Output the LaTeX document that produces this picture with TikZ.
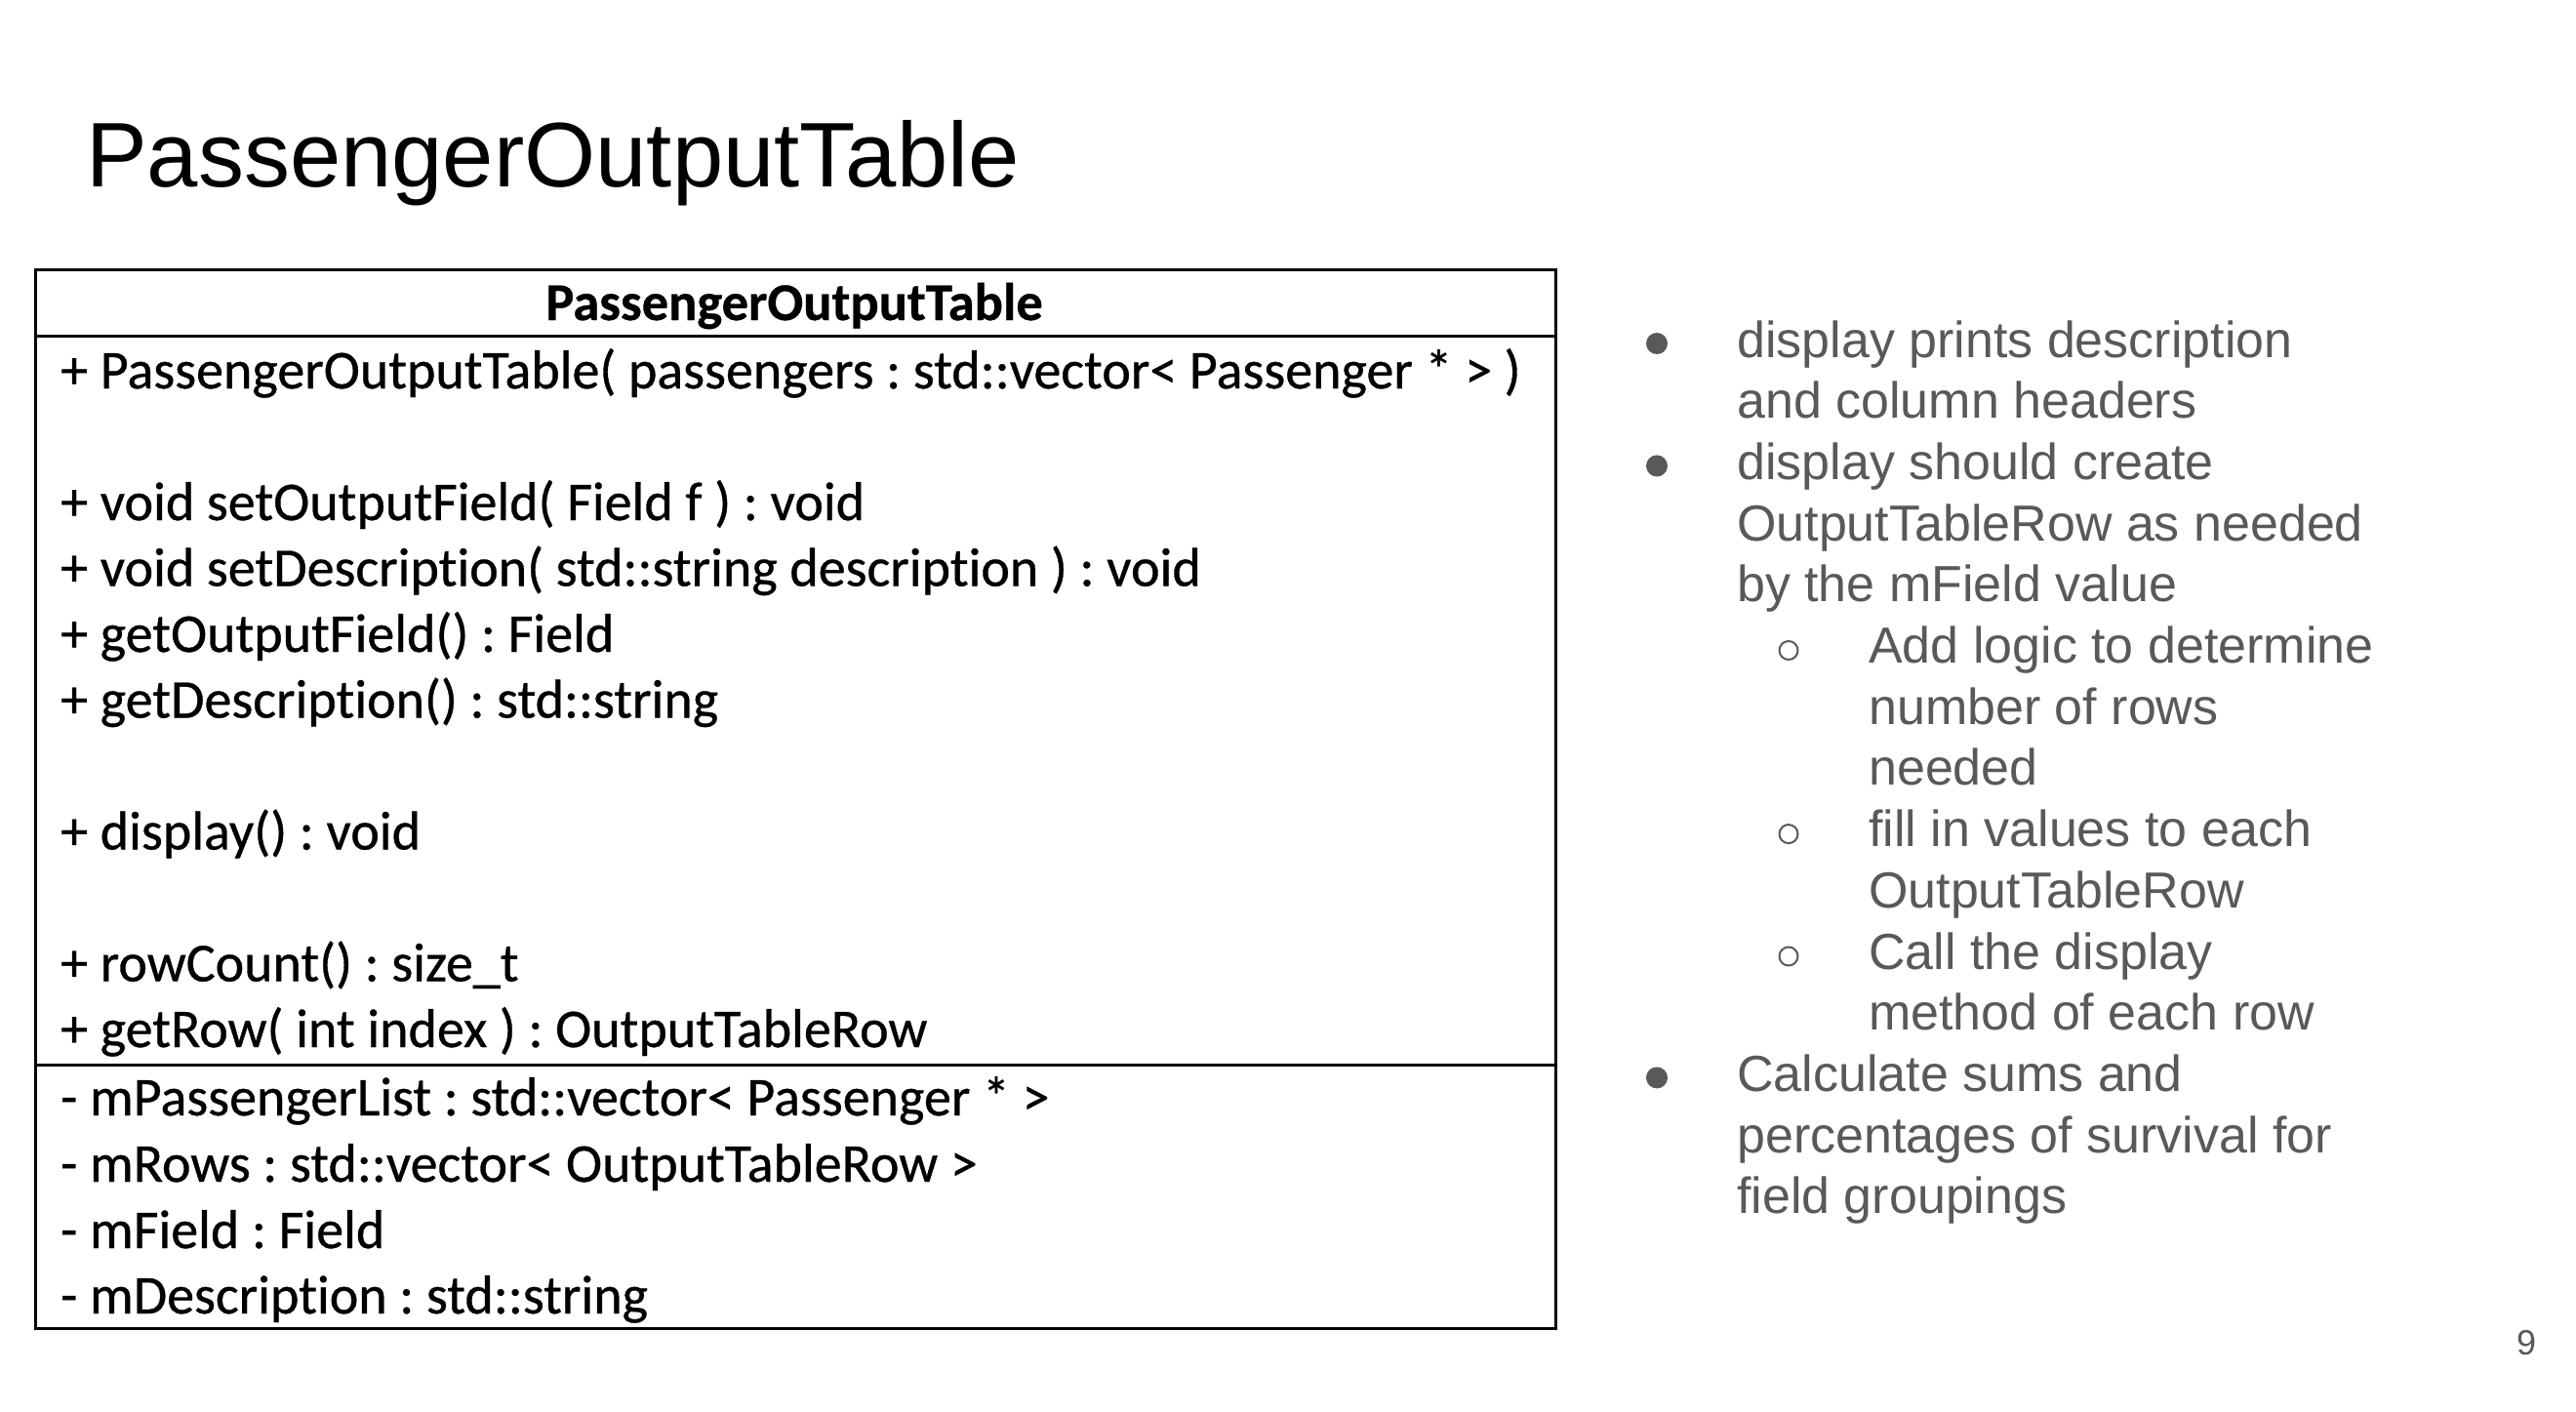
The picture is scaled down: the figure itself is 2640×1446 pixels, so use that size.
\documentclass[tikz,border=0pt]{standalone}
\usepackage{fontspec}
\setmainfont{Liberation Sans}
\newfontfamily\umlfont[Ligatures={NoCommon}, FakeBold=0.6]{Carlito}
\definecolor{txtgray}{HTML}{595959}
\begin{document}
\frenchspacing
\begin{tikzpicture}[x=1pt,y=-1pt,
  umlbox/.style={draw, line width=3pt, inner sep=0pt, anchor=north west, minimum width=1558pt},
  umltext/.style={anchor=base west, inner sep=0pt, font=\umlfont\fontsize{56}{60}\selectfont},
  umlhead/.style={anchor=base, inner sep=0pt, font=\umlfont\bfseries\fontsize{54.5}{60}\selectfont},
  note/.style={anchor=base west, inner sep=0pt, text=txtgray, font=\fontsize{52}{62}\selectfont},
  dotbullet/.style={circle, fill=txtgray, inner sep=0pt, minimum size=22pt},
  ringbullet/.style={circle, draw=txtgray, line width=2pt, inner sep=0pt, minimum size=19pt}]
\useasboundingbox[fill=white] (0,0) rectangle (2640,1446);

% title
\node[anchor=base west, inner sep=0pt, font=\fontsize{94}{110}\selectfont] (title) at (88,191) {PassengerOutputTable};

% UML class box
\node[umlbox, minimum height=68pt] (hdr) at (35,275) {};
\node[umlbox, minimum height=747pt] (ops) at (35,343) {};
\node[umlbox, minimum height=270pt] (attrs) at (35,1090) {};

\node[umlhead] (hname) at (814,328) {PassengerOutputTable};

\node[umltext] (m1) at (62,398) {+ PassengerOutputTable( passengers : std::vector< Passenger * > )};
\node[umltext] (m2) at (62,533) {+ void setOutputField( Field f ) : void};
\node[umltext] (m3) at (62,600.5) {+ void setDescription( std::string description ) : void};
\node[umltext] (m4) at (62,668) {+ getOutputField() : Field};
\node[umltext] (m5) at (62,735.5) {+ getDescription() : std::string};
\node[umltext] (m6) at (62,870.5) {+ display() : void};
\node[umltext] (m7) at (62,1005.5) {+ rowCount() : size\_t};
\node[umltext] (m8) at (62,1073) {+ getRow( int index ) : OutputTableRow};

\node[umltext] (a1) at (62,1143) {- mPassengerList : std::vector< Passenger * >};
\node[umltext] (a2) at (62,1211) {- mRows : std::vector< OutputTableRow >};
\node[umltext] (a3) at (62,1279) {- mField : Field};
\node[umltext] (a4) at (62,1346) {- mDescription : std::string};

% notes
\node[dotbullet] (b1) at (1698,352) {};
\node[note] (n1) at (1780,366) {display prints description};
\node[note] (n2) at (1780,428.7) {and column headers};
\node[dotbullet] (b2) at (1698,477.4) {};
\node[note] (n3) at (1780,491.4) {display should create};
\node[note] (n4) at (1780,554.1) {OutputTableRow as needed};
\node[note] (n5) at (1780,616.8) {by the mField value};
\node[ringbullet] (s1) at (1833,666.5) {};
\node[note] (n6) at (1915,679.5) {Add logic to determine};
\node[note] (n7) at (1915,742.2) {number of rows};
\node[note] (n8) at (1915,804.9) {needed};
\node[ringbullet] (s2) at (1833,854.6) {};
\node[note] (n9) at (1915,867.6) {fill in values to each};
\node[note] (n10) at (1915,930.3) {OutputTableRow};
\node[ringbullet] (s3) at (1833,980) {};
\node[note] (n11) at (1915,993) {Call the display};
\node[note] (n12) at (1915,1055.7) {method of each row};
\node[dotbullet] (b3) at (1698,1104.4) {};
\node[note] (n13) at (1780,1118.4) {Calculate sums and};
\node[note] (n14) at (1780,1181.1) {percentages of survival for};
\node[note] (n15) at (1780,1243.8) {field groupings};

% page number
\node[anchor=base west, inner sep=0pt, text=txtgray, font=\fontsize{36}{40}\selectfont] (pg) at (2579,1388) {9};
\end{tikzpicture}
\end{document}
